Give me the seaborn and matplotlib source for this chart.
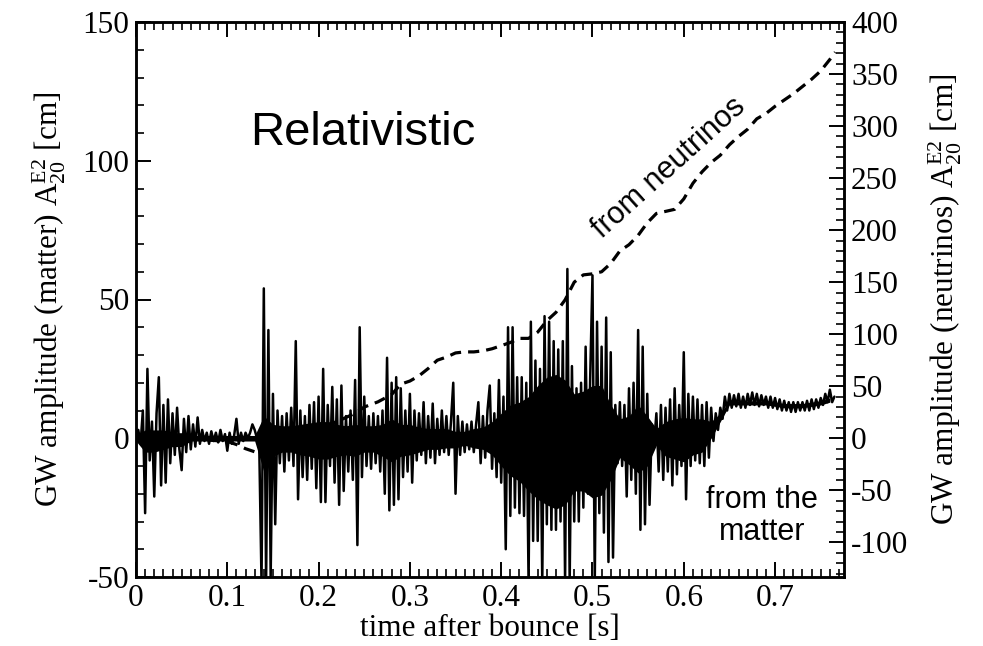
import numpy as np
import pandas as pd
import matplotlib
matplotlib.use("Agg")
import matplotlib.pyplot as plt
from matplotlib.ticker import MultipleLocator, FixedLocator
import seaborn as sns

# ---------------- data ----------------
# matter signal: values sampled every 2.5 ms, starting at t = 0
matter_step = 0.0025
matter_v = [
    0, 3, -2, 10, -27, 25, -8, 6, -21, 9,
    22, -17, 12, -16, 14, -9, 9, -6, 11, -4,
    -11.5, 7, -5, 8, -4, 5, -3, 7.5, -2, 3,
    -1, 2, -2, 2.5, -1, 2, -1.5, 3, -1, 1.5,
    -4.5, 2, -2, 1, 7, -2, 2, -1, 2, 0,
    2, 5, 3, 0, -3, -52, 54, -52, 39, -50,
    16, -31, 10, -9, 8, -12, 9, -8, 11, -10,
    35, -22, 10, -14, 8, -15, 12, -11, 13, -18,
    15, -23, 25, -23, 12, -10, 18.5, -16, 14, -24,
    19, -19, 8, -12, 10, -15, 21, -38.5, 40, -14,
    15, -10, 8, -11, 9, -9, 8, -12, 10, -20,
    29, -26, 20, -24, 22, -22, 18, -14, 10, -12,
    16, -16, 10, -8, 9, -6, 13, -9, 8, -7,
    12.5, -9, 7, -6, 10, -5, 8, -6, 6, 20,
    -20, 8, -6, 6, -5, 5, -4, 6, -5, 5,
    13, -9, 8, -7, 10, 19, -11, 9, -14, 21,
    -16, 15, -40, 40, -28, 40, -25, 22, -27, 22,
    -28, 20, -52, 42, -37, 28, -37, 25, -52, 44,
    -31, 42, -33, 35, -33, 32, -30, 35, -52, 61,
    -52, 26, -30, 18, -30, 20, -25, 33, -20, 22,
    58.7, -52, 42, -27, 33, -34, 43.5, -44.6, 31, -43,
    12, -9, 13, -10, 12, -21, 18, -15, 20, -20,
    39, -33, 33, -31, 16, -24, 5, -2, 9, -12,
    12, -15, 11, -12, 14, -17, 18, -13, 12, -10,
    31, -22, 16, -10, 15, -8, 14, -9, 12, -10,
    13, -7, 11, -1, 9, 3, 11, 7, 15, 10,
    16, 11, 15.5, 11.5, 16, 11, 15, 11, 16, 12,
    16.5, 12, 16, 11.5, 15.5, 12, 15, 11, 15, 11,
    14.5, 10.5, 14, 10, 13.5, 10, 13, 9.5, 13, 9.5,
    13, 10, 13, 10, 13.5, 10, 14, 10.5, 14, 11,
    14.5, 12, 16, 13, 17.5, 13, 15,
]
matter_t = np.arange(len(matter_v)) * matter_step

# solid core of the matter signal, every 10 ms
core_step = 0.01
core_hi = [1, 3, 3, 3, 2, 2, 1, 1, 1, 1,
           1, 1, 1, 1, 8, 5, 4.5, 4.5, 5, 5.5,
           6, 6, 5, 4.5, 5, 4.5, 4.5, 5, 7, 5,
           5, 4, 3.5, 3.5, 3.5, 2.5, 2.5, 3.5, 4, 6,
           9, 12, 13, 15, 19, 22, 23, 21, 16, 17,
           19, 19, 12, 7, 8, 12, 8, 3.5, 6, 7,
           7.5, 7, 7, 6, 9, 13.5, 13.5, 13.5, 13.5, 13.5,
           13, 12.5, 12.5, 12.5, 13, 13.5, 14.5]
core_lo = [-1, -5, -5, -4, -3, -3, -1, -1, -1, -1,
           -1, -1, -1, -1, -12, -6.5, -5, -5, -6, -6.5,
           -7.5, -7.5, -6.5, -6, -6.5, -5, -5, -6.5, -8.5, -6.5,
           -6, -5, -4, -4, -3.5, -3.5, -2.5, -3.5, -4, -6,
           -10, -13.5, -15.5, -19, -22, -24, -25.5, -24, -19, -19,
           -21.5, -20.5, -15, -7, -9.5, -12.5, -10, -2.5, -6.5, -7.5,
           -8.5, -6, -5, 0, 6, 12, 12, 12, 12, 12,
           11.5, 11, 11, 11, 11.5, 12, 13]
core_t = np.arange(len(core_hi)) * core_step

# neutrino contribution (right axis)
nu_t = [0, 0.05, 0.10, 0.11, 0.12, 0.13, 0.135, 0.14, 0.145, 0.16, 0.18, 0.20,
        0.22, 0.24, 0.25, 0.265, 0.28, 0.29, 0.30, 0.31, 0.32, 0.33, 0.34, 0.35,
        0.36, 0.37, 0.38, 0.39, 0.40, 0.41, 0.42, 0.43, 0.44, 0.45, 0.46, 0.47,
        0.48, 0.49, 0.50, 0.51, 0.52, 0.53, 0.54, 0.55, 0.56, 0.57, 0.58, 0.59,
        0.60, 0.61, 0.62, 0.63, 0.64, 0.65, 0.66, 0.67, 0.68, 0.69, 0.70, 0.71,
        0.72, 0.73, 0.74, 0.75, 0.76, 0.766]
nu_v = [0, 0, -3, -6, -10, -13, -14, -8, -1, 2, 6, 10,
        16, 24, 30, 35, 42, 52, 55, 60, 67, 75, 78, 82,
        83, 83, 84, 86, 89, 92, 96, 96, 102, 113, 121, 133,
        150, 157, 158, 160, 168, 180, 186, 195, 207, 216, 218, 220,
        230, 245, 256, 265, 272, 282, 290, 297, 307, 312, 319, 325,
        331, 338, 345, 353, 364, 371]

x_ticks = [0, 0.1, 0.2, 0.3, 0.4, 0.5, 0.6, 0.7]
x_labels = ["0", "0.1", "0.2", "0.3", "0.4", "0.5", "0.6", "0.7"]
left_ticks = [-50, 0, 50, 100, 150]
right_ticks = [-100, -50, 0, 50, 100, 150, 200, 250, 300, 350, 400]

# ---------------- style ----------------
sns.set_style("ticks")
plt.rcParams["font.family"] = ["Liberation Serif", "DejaVu Serif"]
plt.rcParams["mathtext.fontset"] = "custom"
plt.rcParams["mathtext.rm"] = "Liberation Serif"
plt.rcParams["mathtext.it"] = "Liberation Serif:italic"
plt.rcParams["axes.unicode_minus"] = False
for key in ("text.color", "axes.labelcolor", "xtick.color", "ytick.color",
            "axes.edgecolor"):
    plt.rcParams[key] = "black"
SANS = ["Liberation Sans", "DejaVu Sans"]
FS = 22.5

fig = plt.figure(figsize=(9.83, 6.46), dpi=100)
ax = fig.add_axes([136 / 983, 1 - 577 / 646, 708 / 983, 555 / 646])
ax2 = ax.twinx()

ax.fill_between(core_t, core_lo, core_hi, color="black", lw=0, zorder=2)
sns.lineplot(x=matter_t, y=matter_v, ax=ax, color="black", lw=1.8,
             sort=False, estimator=None, zorder=3)
sns.lineplot(x=nu_t, y=nu_v, ax=ax2, color="black", lw=2.3,
             linestyle=(0, (3.5, 2.2)), sort=False, estimator=None)

ax.set_xlim(0, 0.7755)
ax.set_ylim(-50, 150)
ax2.set_ylim(-133.3, 400)

ax.xaxis.set_major_locator(FixedLocator(x_ticks))
ax.set_xticklabels(x_labels)
ax.xaxis.set_minor_locator(MultipleLocator(0.01))
ax.yaxis.set_major_locator(FixedLocator(left_ticks))
ax.set_yticklabels([str(v) for v in left_ticks])
ax.yaxis.set_minor_locator(MultipleLocator(10))
ax2.yaxis.set_major_locator(FixedLocator(right_ticks))
ax2.set_yticklabels([str(v) for v in right_ticks])
ax2.yaxis.set_minor_locator(MultipleLocator(10))

ax.tick_params(which="both", direction="in", top=True, bottom=True,
               left=True, right=False, labelsize=FS, pad=5, colors="black")
ax.tick_params(which="major", length=11, width=1.4)
ax.tick_params(which="minor", length=5.5, width=1.2)
ax2.tick_params(which="both", direction="in", right=True, left=False,
                labelsize=FS, pad=5, colors="black")
ax2.tick_params(which="major", length=11, width=1.4)
ax2.tick_params(which="minor", length=5.5, width=1.2)

for a in (ax, ax2):
    for s in a.spines.values():
        s.set_linewidth(1.8)
        s.set_color("black")
        s.set_visible(True)

ax.set_xlabel("time after bounce [s]", fontsize=FS, labelpad=1)
ax.set_ylabel(r"GW amplitude (matter) A$_{20}^{\rm E2}$ [cm]", fontsize=FS, labelpad=10)
ax2.set_ylabel(r"GW amplitude (neutrinos) A$_{20}^{\rm E2}$ [cm]", fontsize=FS,
               labelpad=13)

ax.text(0.1249, 105.6, "Relativistic", fontsize=34, family=SANS,
        ha="left", va="baseline", color="black")
ax.text(0.584, 97.3, "from neutrinos", fontsize=22, family=SANS, color="black",
        rotation=42, rotation_mode="anchor", ha="center", va="center")
ax.text(0.686, -28, "from the\nmatter", fontsize=22, family=SANS, color="black",
        ha="center", va="center", linespacing=1.05)

fig.savefig("out.png", dpi=100)
